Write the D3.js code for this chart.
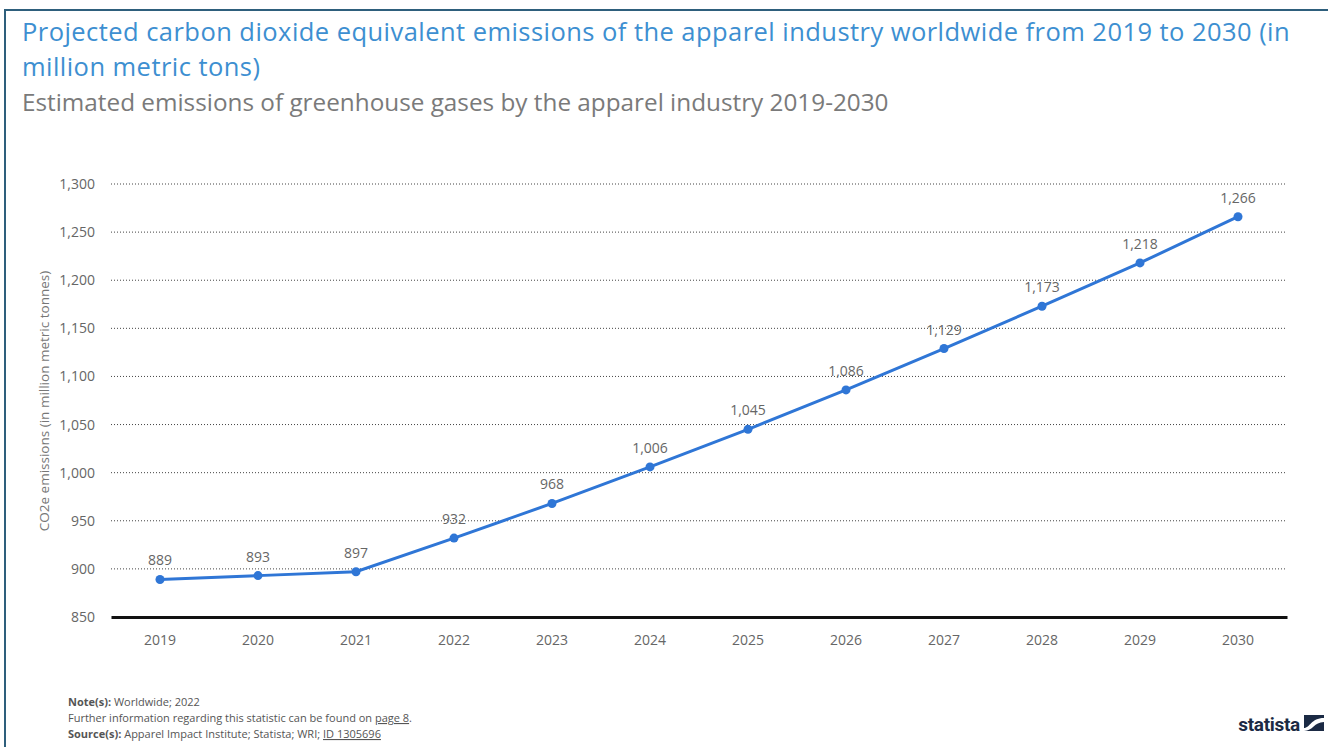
<!DOCTYPE html>
<html>
<head>
<meta charset="utf-8">
<script src="https://cdn.jsdelivr.net/npm/d3@7"></script>
<style>
  html, body { margin: 0; padding: 0; background: #fff; }
  svg { display: block; font-family: "Open Sans", sans-serif; }
</style>
</head>
<body>
<svg id="chart" width="1328" height="747"></svg>
<script>
// Projected CO2e emissions of the apparel industry (million metric tons)
const years = ["2019","2020","2021","2022","2023","2024","2025","2026","2027","2028","2029","2030"];
const emissions = [889, 893, 897, 932, 968, 1006, 1045, 1086, 1129, 1173, 1218, 1266];
const yTicks = [850, 900, 950, 1000, 1050, 1100, 1150, 1200, 1250, 1300];
const titleLines = [
  "Projected carbon dioxide equivalent emissions of the apparel industry worldwide from 2019 to 2030 (in",
  "million metric tons)"
];

const svg = d3.select("#chart");
const W = 1328, H = 747;

// outer frame
svg.append("rect")
  .attr("x", 5).attr("y", 10).attr("width", W + 10).attr("height", H + 10)
  .attr("fill", "#fff").attr("stroke", "#2e5f7c").attr("stroke-width", 2);

// titles
svg.append("g").selectAll("text").data(titleLines).join("text")
  .attr("x", 22).attr("y", (d, i) => 41 + i * 35)
  .attr("font-size", 25.5).attr("letter-spacing", 0.45).attr("fill", "#3d8fd1")
  .text(d => d);
svg.append("text").attr("x", 22).attr("y", 111)
  .attr("font-size", 24.3).attr("fill", "#7a7a7a")
  .text("Estimated emissions of greenhouse gases by the apparel industry 2019-2030");

// scales
const x = d3.scaleBand().domain(years).range([111, 1287]);
const y = d3.scaleLinear().domain([850, 1300]).range([617, 184]);

// gridlines
svg.append("g").selectAll("line")
  .data(yTicks.filter(d => d > 850))
  .join("line")
  .attr("x1", 111).attr("x2", 1287)
  .attr("y1", d => y(d)).attr("y2", d => y(d))
  .attr("stroke", "#444").attr("stroke-width", 1)
  .attr("stroke-dasharray", "1,2");

// y axis
const yAxis = svg.append("g")
  .attr("transform", "translate(111,0)")
  .call(d3.axisLeft(y).tickValues(yTicks).tickSize(0).tickPadding(16).tickFormat(d3.format(",")));
yAxis.select(".domain").remove();
yAxis.selectAll("text").attr("font-size", 14).attr("fill", "#666").attr("font-family", "Open Sans");

// x axis
const xAxis = svg.append("g")
  .attr("transform", "translate(0,617)")
  .call(d3.axisBottom(x).tickSize(0).tickPadding(18));
xAxis.select(".domain").attr("stroke", "#111").attr("stroke-width", 3);
xAxis.selectAll("text").attr("font-size", 14).attr("fill", "#666").attr("font-family", "Open Sans");

// y axis title
svg.append("text")
  .attr("transform", "translate(49,401) rotate(-90)")
  .attr("text-anchor", "middle")
  .attr("font-size", 13.5).attr("fill", "#777")
  .text("CO2e emissions (in million metric tonnes)");

// line
const pts = years.map((yr, i) => ({ yr, v: emissions[i] }));
const line = d3.line().x(d => x(d.yr) + x.bandwidth() / 2).y(d => y(d.v));
svg.append("path").datum(pts)
  .attr("d", line).attr("fill", "none")
  .attr("stroke", "#2f76d6").attr("stroke-width", 3);

svg.append("g").selectAll("circle").data(pts).join("circle")
  .attr("cx", d => x(d.yr) + x.bandwidth() / 2)
  .attr("cy", d => y(d.v))
  .attr("r", 4.5).attr("fill", "#2f76d6");

svg.append("g").selectAll("text").data(pts).join("text")
  .attr("x", d => x(d.yr) + x.bandwidth() / 2)
  .attr("y", d => y(d.v) - 14)
  .attr("text-anchor", "middle")
  .attr("font-size", 14).attr("fill", "#666")
  .text(d => d3.format(",")(d.v));

// footer notes
const foot = svg.append("g").attr("font-size", 11).attr("fill", "#555");
const n1 = foot.append("text").attr("x", 68).attr("y", 706);
n1.append("tspan").attr("font-weight", "bold").text("Note(s): ");
n1.append("tspan").text("Worldwide; 2022");
const n2 = foot.append("text").attr("x", 68).attr("y", 722);
n2.append("tspan").text("Further information regarding this statistic can be found on ");
n2.append("tspan").attr("text-decoration", "underline").text("page 8");
n2.append("tspan").text(".");
const n3 = foot.append("text").attr("x", 68).attr("y", 738);
n3.append("tspan").attr("font-weight", "bold").text("Source(s): ");
n3.append("tspan").text("Apparel Impact Institute; Statista; WRI; ");
n3.append("tspan").attr("text-decoration", "underline").text("ID 1305696");

// brand mark
svg.append("text").attr("x", 1300).attr("y", 731)
  .attr("text-anchor", "end")
  .attr("font-size", 19).attr("font-weight", "bold")
  .attr("font-family", "Roboto, 'Open Sans', sans-serif")
  .attr("fill", "#1b2a44").attr("letter-spacing", -0.3)
  .text("statista");
const logo = svg.append("g").attr("transform", "translate(1304,715)");
logo.append("rect").attr("width", 20).attr("height", 16).attr("fill", "#1b2a44");
logo.append("path")
  .attr("d", "M0,13 C6,13 7,3 20,3 L20,7 C10,7 9,16 0,16 Z")
  .attr("fill", "#fff");
</script>
</body>
</html>
